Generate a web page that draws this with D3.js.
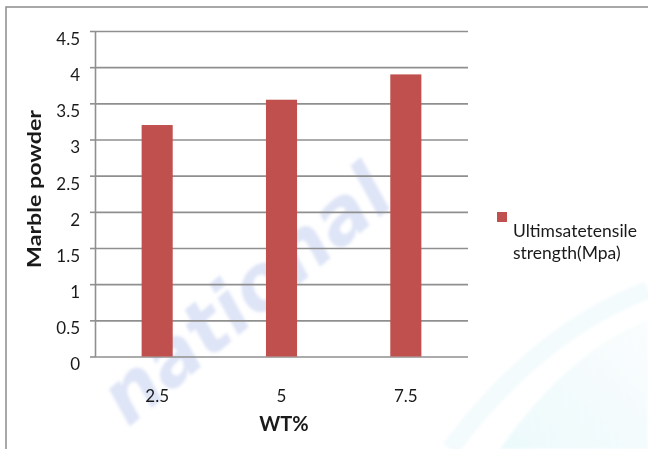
<!DOCTYPE html>
<html>
<head>
<meta charset="utf-8">
<script src="https://cdn.jsdelivr.net/npm/d3@7"></script>
<style>
  html, body { margin: 0; padding: 0; background: #ffffff; }
  svg { display: block; }
  text { font-family: Lato, "Open Sans", sans-serif; fill: #1a1a1a; }
</style>
</head>
<body>
<svg id="chart" width="648" height="449"></svg>
<script>
// Marble powder content vs. ultimate tensile strength
const categories = ["2.5", "5", "7.5"];
const tensileStrength = [3.2, 3.55, 3.9];
const yTicks = [0, 0.5, 1, 1.5, 2, 2.5, 3, 3.5, 4, 4.5];
const seriesName = ["Ultimsatetensile", "strength(Mpa)"];
const xTitle = "WT%";
const yTitle = "Marble powder";

const barColor = "#c0504d";
const gridColor = "#8f8f8f";

const svg = d3.select("#chart");
const W = 648, H = 449;
const plot = { left: 95, right: 468, top: 31, bottom: 356.5 };

// faint background watermark
const defs = svg.append("defs");
defs.append("filter").attr("id", "soft")
  .append("feGaussianBlur").attr("stdDeviation", 1.4);
const grad = defs.append("linearGradient").attr("id", "swoosh")
  .attr("x1", "0").attr("y1", "1").attr("x2", "1").attr("y2", "0");
grad.append("stop").attr("offset", "0").attr("stop-color", "#e6f8fb").attr("stop-opacity", 0.8);
grad.append("stop").attr("offset", "1").attr("stop-color", "#eef8fb").attr("stop-opacity", 0.3);

const wm = svg.append("g").attr("filter", "url(#soft)");
wm.append("path")
  .attr("d", "M 500 449 Q 570 350 648 320 L 648 449 Z")
  .attr("fill", "url(#swoosh)");
wm.append("path")
  .attr("d", "M 450 449 Q 540 330 648 290")
  .attr("fill", "none").attr("stroke", "#ecf8fb").attr("stroke-width", 18).attr("opacity", 0.6);
wm.append("text")
  .attr("transform", "translate(128,428) rotate(-40)")
  .attr("font-size", 76).attr("font-weight", 900).attr("font-style", "italic")
  .style("font-family", "'DejaVu Sans', sans-serif")
  .style("fill", "#b6c5ea").attr("opacity", 0.45)
  .text("national");

// frame
svg.append("path")
  .attr("d", `M 6 ${H} L 6 7 L ${W} 7`)
  .attr("fill", "none").attr("stroke", "#8c8c8c").attr("stroke-width", 1.5);

// scales
const x = d3.scaleBand()
  .domain(categories)
  .range([plot.left, plot.right])
  .paddingInner(0.75)
  .paddingOuter(0.375);
const y = d3.scaleLinear()
  .domain([0, 4.5])
  .range([plot.bottom, plot.top]);

// horizontal gridlines
const grid = svg.append("g")
  .attr("transform", `translate(${plot.left},0)`)
  .call(d3.axisLeft(y).tickValues(yTicks).tickSize(-(plot.right - plot.left)).tickFormat(""));
grid.select(".domain").remove();
grid.selectAll("line").attr("stroke", gridColor).attr("stroke-width", 1.6);

// y axis with outer ticks
const yAxis = svg.append("g")
  .attr("transform", `translate(${plot.left},0)`)
  .call(d3.axisLeft(y).tickValues(yTicks).tickSize(5).tickSizeOuter(0).tickPadding(10)
    .tickFormat(d3.format("")));
yAxis.select(".domain").attr("stroke", gridColor).attr("stroke-width", 1.6);
yAxis.selectAll("line").attr("stroke", gridColor).attr("stroke-width", 1.6);
yAxis.selectAll("text")
  .attr("y", 8)
  .style("font-family", "Lato, sans-serif")
  .style("font-size", "17px")
  .style("fill", "#1a1a1a");

// bars
svg.append("g").selectAll("rect")
  .data(tensileStrength)
  .join("rect")
  .attr("x", (d, i) => x(categories[i]))
  .attr("y", d => y(d))
  .attr("width", x.bandwidth())
  .attr("height", d => y(0) - y(d))
  .attr("fill", barColor);

// x axis labels (no tick marks)
const xAxis = svg.append("g")
  .attr("transform", `translate(0,${plot.bottom})`)
  .call(d3.axisBottom(x).tickSize(0).tickPadding(0));
xAxis.select(".domain").remove();
xAxis.selectAll("text")
  .attr("y", 45).attr("dy", 0)
  .style("font-family", "Lato, sans-serif")
  .style("font-size", "17px")
  .style("fill", "#1a1a1a");

// axis titles
svg.append("text")
  .attr("x", 284).attr("y", 430.5)
  .attr("text-anchor", "middle")
  .attr("font-size", 20).attr("font-weight", 700)
  .text(xTitle);

svg.append("text")
  .attr("transform", "translate(41,189) rotate(-90)")
  .attr("text-anchor", "middle")
  .attr("font-size", 18).attr("font-weight", 700)
  .attr("textLength", 158).attr("lengthAdjust", "spacingAndGlyphs")
  .text(yTitle);

// legend: swatch plus a two-line label
const legend = svg.append("g");
legend.append("rect")
  .attr("x", 497).attr("y", 212).attr("width", 10).attr("height", 10)
  .attr("fill", barColor);
legend.selectAll("text.legend-label")
  .data(seriesName)
  .join("text")
  .attr("class", "legend-label")
  .attr("x", 513)
  .attr("y", (d, i) => 237 + i * 21.5)
  .attr("font-size", 17.5)
  .text(d => d);
</script>
</body>
</html>
